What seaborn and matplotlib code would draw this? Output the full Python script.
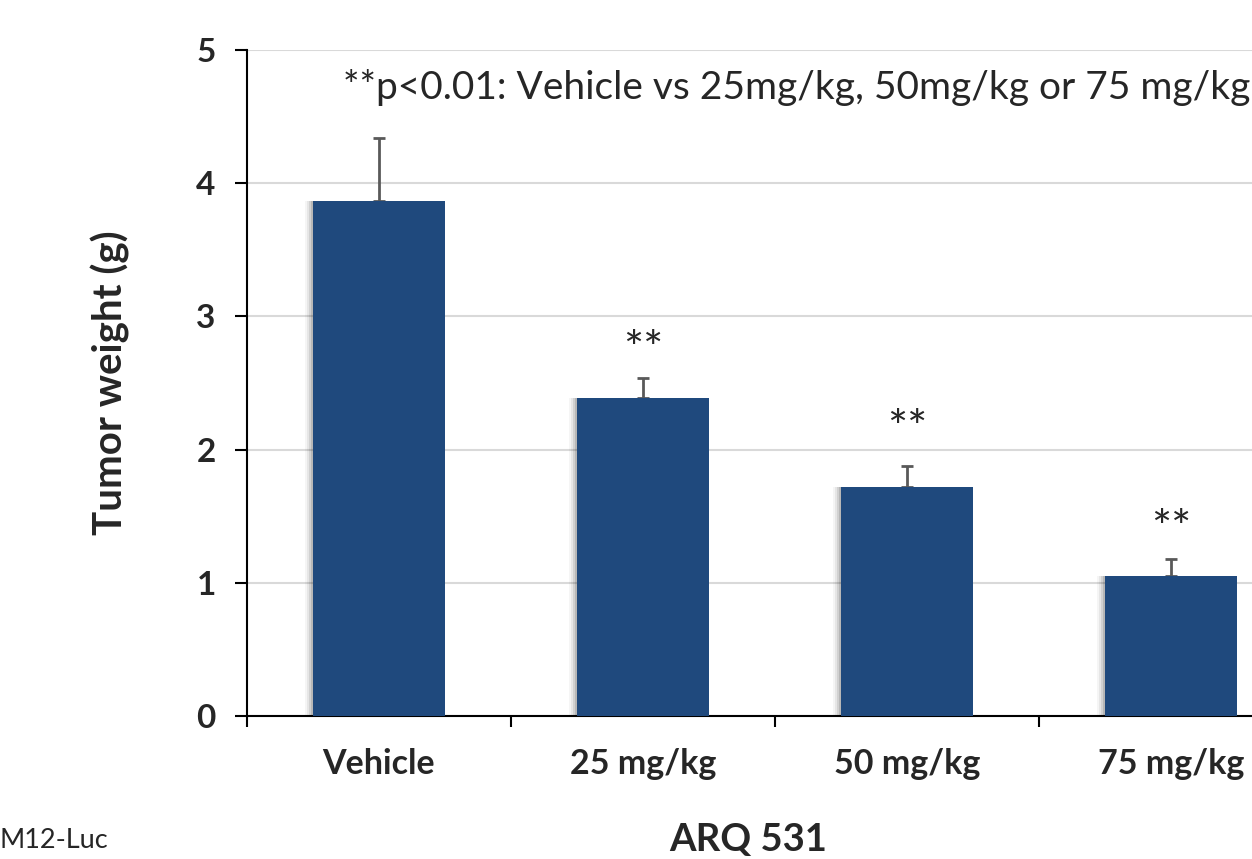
import matplotlib
matplotlib.use("Agg")
import matplotlib.pyplot as plt
import matplotlib.patheffects as pe
import seaborn as sns
import pandas as pd
import numpy as np

categories = ["Vehicle", "25 mg/kg", "50 mg/kg", "75 mg/kg"]
tumor_weight = [3.87, 2.39, 1.72, 1.05]
sem_upper = [0.47, 0.15, 0.16, 0.13]
significance = ["", "**", "**", "**"]
significance_y = [0.0, 2.64, 2.05, 1.30]
yticks = [0, 1, 2, 3, 4, 5]

sns.set_theme(style="white")
plt.rcParams["font.family"] = ["Lato", "DejaVu Sans"]
TXT = "#262626"

df = pd.DataFrame({"group": categories, "weight": tumor_weight})

fig = plt.figure(figsize=(12.52, 8.59), dpi=100)
L, B = 247 / 1252, (859 - 716) / 859
W, H = (1303 - 247) / 1252, (716 - 50) / 859
ax = fig.add_axes([L, B, W, H])

sns.barplot(data=df, x="group", y="weight", order=categories, color="#1F497D",
            saturation=1, width=0.5, linewidth=0, errorbar=None, ax=ax, zorder=3)

shadow = [pe.SimplePatchShadow(offset=(-6, 0), shadow_rgbFace="black", alpha=0.04),
          pe.SimplePatchShadow(offset=(-4.5, 0), shadow_rgbFace="black", alpha=0.06),
          pe.SimplePatchShadow(offset=(-3, 0), shadow_rgbFace="black", alpha=0.09),
          pe.SimplePatchShadow(offset=(-1.5, 0), shadow_rgbFace="black", alpha=0.12),
          pe.Normal()]
for p in ax.patches:
    p.set_path_effects(shadow)

xpos = np.arange(len(categories))
ax.errorbar(xpos, tumor_weight, yerr=[np.zeros(len(sem_upper)), sem_upper],
            fmt="none", ecolor="#595959", elinewidth=2, capsize=4.5, capthick=2, zorder=2)

for x, y, s in zip(xpos, significance_y, significance):
    if s:
        ax.text(x, y, s, ha="center", va="baseline", fontsize=34, color=TXT)

ax.set_xlim(-0.5, 3.5)
ax.set_ylim(0, 5)
ax.set_yticks(yticks)
ax.set_yticklabels([str(t) for t in yticks], fontsize=24, fontweight="bold", color=TXT)
ax.yaxis.grid(True, color="#d9d9d9", linewidth=1.5, zorder=0)
ax.set_axisbelow(True)
ax.tick_params(axis="y", which="major", direction="out", length=8.5, width=1.5,
               color="black", pad=14, left=True)

ax.set_xticks(xpos)
ax.set_xticklabels(categories, fontsize=24.5, fontweight="bold", color=TXT)
ax.tick_params(axis="x", which="major", length=0, pad=23)
ax.set_xticks(np.arange(-0.5, 4, 1), minor=True)
ax.tick_params(axis="x", which="minor", direction="out", length=8, width=1.5,
               color="black", bottom=True)

for side in ["top", "right"]:
    ax.spines[side].set_visible(False)
for side in ["left", "bottom"]:
    ax.spines[side].set_color("black")
    ax.spines[side].set_linewidth(1.5)

ax.set_xlabel("")
ax.set_ylabel("Tumor weight (g)", fontsize=29, fontweight="bold", color=TXT, labelpad=48)

fig.text(343 / 1252, 1 - 88 / 859, "**p<0.01: Vehicle vs 25mg/kg, 50mg/kg or 75 mg/kg",
         ha="left", va="center", fontsize=28, color=TXT)
fig.text(748 / 1252, 1 - 840 / 859, "ARQ 531", ha="center", va="center",
         fontsize=27.5, fontweight="bold", color=TXT)
fig.text(0, 1 - 840 / 859, "M12-Luc", ha="left", va="center", fontsize=19.5, color=TXT)

fig.savefig("out.png", dpi=100)
